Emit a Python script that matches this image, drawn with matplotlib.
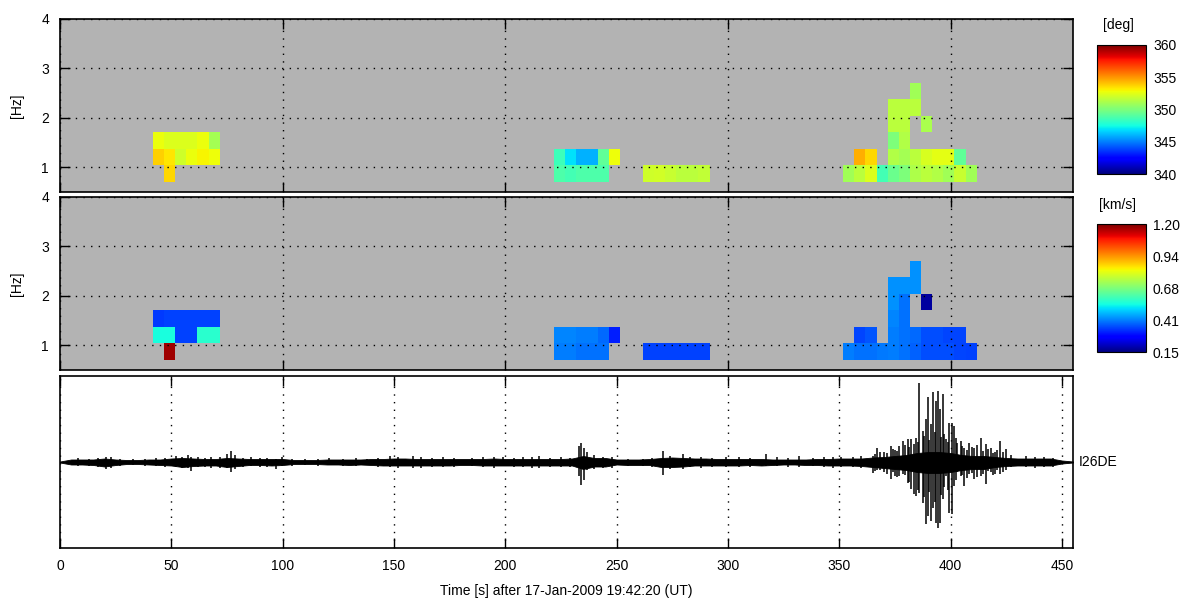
import matplotlib
matplotlib.use("Agg")
import matplotlib.pyplot as plt
import matplotlib.colors as mcolors
import matplotlib.cm as cm
import numpy as np

plt.rcParams['font.family'] = ['Liberation Sans Narrow', 'Liberation Sans', 'DejaVu Sans']
plt.rcParams['font.size'] = 10

nan = np.nan

# time bins are 5 s wide, column 0 starts at 41.75 s
bin_t0 = 41.75
bin_dt = 5.0
# frequency rows (Hz)
freq_edges = [0.71, 1.043, 1.377, 1.71, 2.043, 2.377, 2.71]

block_cols = [0, 36, 44, 62]

baz_blocks = [
    [[nan, 353.6, nan, nan, nan, nan],
     [353.8, 353.3, 352.0, 352.7, 353.0, 352.8],
     [352.7, 352.3, 352.3, 352.3, 352.7, 351.0]],
    [[348.9, 348.6, 348.9, 348.9, 348.9, nan],
     [348.5, 346.9, 346.0, 346.0, 349.3, 352.8]],
    [[352.0, 352.1, 351.8, 351.5, 351.5, 351.7]],
    [[350.9, 351.5, 352.3, 348.6, 349.6, 350.0, 351.2, 351.5, 351.3, 350.9, 351.8, 350.9],
     [nan, 354.5, 353.6, nan, 351.3, 351.0, 351.5, 352.2, 352.5, 352.5, 349.3, nan],
     [nan, nan, nan, nan, 350.0, 351.3, nan, nan, nan, nan, nan, nan],
     [nan, nan, nan, nan, 351.5, 351.5, nan, 351.1, nan, nan, nan, nan],
     [nan, nan, nan, nan, 351.5, 351.5, 351.5, nan, nan, nan, nan, nan],
     [nan, nan, nan, nan, nan, nan, 350.9, nan, nan, nan, nan, nan]],
]

vel_blocks = [
    [[nan, 1.17, nan, nan, nan, nan],
     [0.55, 0.55, 0.35, 0.35, 0.57, 0.57],
     [0.34, 0.35, 0.35, 0.35, 0.35, 0.35]],
    [[0.41, 0.41, 0.40, 0.40, 0.40, nan],
     [0.42, 0.42, 0.41, 0.41, 0.39, 0.31]],
    [[0.35, 0.35, 0.35, 0.35, 0.35, 0.35]],
    [[0.41, 0.40, 0.40, 0.405, 0.41, 0.40, 0.38, 0.36, 0.36, 0.36, 0.355, 0.35],
     [nan, 0.355, 0.37, nan, 0.41, 0.40, 0.39, 0.36, 0.36, 0.355, 0.355, nan],
     [nan, nan, nan, nan, 0.42, 0.40, nan, nan, nan, nan, nan, nan],
     [nan, nan, nan, nan, 0.43, 0.40, nan, 0.18, nan, nan, nan, nan],
     [nan, nan, nan, nan, 0.43, 0.43, 0.43, nan, nan, nan, nan, nan],
     [nan, nan, nan, nan, nan, nan, 0.43, nan, nan, nan, nan, nan]],
]

baz_ticks = [340, 345, 350, 355, 360]
vel_ticks = [0.15, 0.4125, 0.675, 0.9375, 1.20]
vel_ticklabels = ['0.15', '0.41', '0.68', '0.94', '1.20']

# waveform core band (pixels from trace centre), every 5 s
env_t = np.arange(0, 456, 5)
env_hi = [0.5, 2.5, 2.5, 2.5, 3.5, 2.5, 2, 2, 2.5, 2.5,
          3.5, 4, 3.5, 3, 3, 4, 3.5, 3, 3, 3,
          3, 2, 2, 2, 2.5, 2.5, 2.5, 2.5, 3, 3,
          3.5, 3.5, 3, 3, 3, 3, 3, 3, 3, 3.5,
          3, 3, 3, 3, 3, 3, 3.5, 6, 4, 4,
          2.5, 2.5, 2.5, 3, 4, 4.5, 4, 3.5, 3.5, 3,
          3, 3, 3, 3, 2.5, 2.5, 2.5, 2.5, 3, 3,
          3.5, 3.5, 3.5, 4.5, 5, 6, 7, 9, 10, 10,
          9, 7, 6, 6, 5, 4, 3.5, 3.5, 3.5, 3.5,
          1.5, 0.5]
env_lo = [-0.5, -2.5, -2.5, -3, -4.5, -3, -2, -2, -2.5, -3,
          -3.5, -5, -4, -3.5, -3.5, -5, -4, -3, -3, -3.5,
          -3, -2, -2, -2, -2.5, -2.5, -3, -2.5, -3, -3.5,
          -3.5, -3.5, -3.5, -3.5, -3.5, -3.5, -3, -3, -3.5, -3.5,
          -3.5, -3.5, -3.5, -3.5, -3.5, -3.5, -3.5, -7, -4.5, -4.5,
          -2.5, -3, -3, -3, -5, -5, -4.5, -3.5, -3.5, -3.5,
          -3.5, -3.5, -3, -3.5, -3, -2.5, -2.5, -3, -3, -3.5,
          -3.5, -3.5, -4, -5, -6, -7, -8, -10, -11, -11,
          -10, -8, -7, -7, -5, -4, -3.5, -3.5, -3.5, -3.5,
          -1.5, -0.5]

# small swings in the background noise
quiet_t = [8, 13, 17, 23, 27, 33, 38, 43, 47, 52,
           55, 62, 65, 68, 72, 82, 86, 90, 93, 104,
           110, 116, 121, 127, 133, 138, 143, 162, 167, 172,
           177, 185, 190, 195, 204, 208, 212, 220, 225, 229,
           244, 248, 255, 262, 266, 274, 283, 288, 293, 299,
           305, 310, 322, 327, 338, 343, 347, 356, 360, 434,
           438, 442, 446]
quiet_hi = [4, 3, 4, 5, 3, 3, 3, 4, 4, 6,
            5, 5, 4, 5, 5, 4, 5, 4, 4, 3,
            3, 3, 4, 3, 4, 3, 4, 5, 4, 5,
            4, 4, 5, 5, 4, 5, 5, 4, 5, 4,
            5, 5, 3, 3, 4, 6, 5, 5, 4, 5,
            5, 4, 5, 4, 4, 5, 5, 5, 6, 6,
            5, 5, 4]
quiet_lo = [-4, -4, -5, -6, -4, -3, -4, -4, -5, -5,
            -6, -5, -5, -6, -6, -5, -4, -5, -5, -4,
            -3, -4, -3, -4, -4, -3, -5, -6, -5, -5,
            -5, -4, -5, -6, -5, -5, -6, -5, -5, -5,
            -6, -6, -4, -4, -5, -7, -5, -6, -5, -5,
            -5, -5, -4, -5, -4, -5, -6, -5, -6, -5,
            -6, -5, -5]

# larger swings (arrivals)
spike_t = [20.5, 57.5, 59, 75, 77, 78.5, 97, 99.5, 148, 152,
           158.5, 199, 215, 233, 234.2, 235.3, 236.5, 240, 270.8, 279.7,
           317, 332, 351, 365, 367, 370, 373.3, 375, 377, 378.5,
           380.7, 382.2, 383.5, 384.5, 386, 387.5, 389, 389.8, 391.3, 392.3,
           393.5, 394.2, 395.3, 396.4, 398, 399.4, 400.6, 401.7, 403, 404.6,
           406, 408.4, 410.6, 413.6, 415.8, 418, 420, 422.3, 424.9, 427,
           366, 368.5, 371.5, 374, 376, 379.5, 381.5, 385.2, 388, 390.5,
           392.8, 395.8, 397.2, 398.7, 402.3, 405.3, 407.2, 409.5, 412, 414.7,
           417, 419, 421, 423.5]
spike_hi = [5, 7, 5, 8, 11, 7, 3, 5, 6, 5,
            6, 5, 6, 16, 19, 14, 10, 7, 11, 8,
            8, 6, 5, 6, 14, 10, 16, 12, 16, 21,
            23, 23, 18, 24, 79, 31, 43, 65, 38, 70,
            61, 71, 53, 68, 23, 39, 39, 36, 19, 21,
            14, 19, 14, 24, 18, 14, 10, 21, 13, 7,
            8, 10, 9, 13, 11, 17, 15, 20, 26, 22,
            30, 25, 28, 20, 24, 16, 12, 15, 17, 11,
            13, 9, 12, 10]
spike_lo = [-7, -6, -9, -6, -10, -7, -7, -4, -5, -6,
            -6, -4, -6, -14, -23, -18, -8, -7, -13, -7,
            -4, -5, -5, -11, -8, -10, -17, -14, -14, -12,
            -21, -27, -32, -34, -31, -41, -62, -54, -59, -46,
            -61, -66, -61, -37, -14, -51, -52, -24, -10, -14,
            -24, -12, -17, -14, -22, -10, -12, -12, -8, -5,
            -9, -8, -12, -10, -15, -13, -20, -28, -35, -30,
            -40, -33, -25, -28, -18, -13, -16, -11, -15, -12,
            -9, -13, -8, -10]

W, H = 1198, 601
fig = plt.figure(figsize=(W / 100, H / 100), dpi=100)


def box(x0, y0, x1, y1):
    return [x0 / W, 1 - y1 / H, (x1 - x0) / W, (y1 - y0) / H]


ax1 = fig.add_axes(box(60, 19, 1073, 192))
ax2 = fig.add_axes(box(60, 197, 1073, 370))
ax3 = fig.add_axes(box(60, 376, 1073, 548))

grid_style = dict(color='k', linestyle=(0, (1, 4.5)), linewidth=1.0)

baz_norm = mcolors.Normalize(340, 360)
vel_norm = mcolors.Normalize(0.15, 1.20)

for ax, blocks, norm in [(ax1, baz_blocks, baz_norm), (ax2, vel_blocks, vel_norm)]:
    ax.set_facecolor('#b3b3b3')
    for c0, block in zip(block_cols, blocks):
        vals = np.ma.masked_invalid(np.array(block, dtype=float))
        nr, nc = vals.shape
        xe = bin_t0 + bin_dt * (c0 + np.arange(nc + 1))
        ye = np.array(freq_edges[:nr + 1])
        ax.pcolormesh(xe, ye, vals, cmap='jet', norm=norm, edgecolors='none')
    ax.set_xlim(0, 455)
    ax.set_ylim(0.5, 4)
    ax.set_xticks([0, 100, 200, 300, 400])
    ax.set_xticklabels([])
    ax.set_yticks([1, 2, 3, 4])
    ax.tick_params(direction='in', length=7, width=1, top=True, right=True, pad=8)
    ax.grid(True, **grid_style)
    ax.set_axisbelow(False)
    ax.set_ylabel('[Hz]', labelpad=12)

# waveform
ax3.fill_between(env_t, env_lo, env_hi, color='k', linewidth=0.6)
ax3.vlines(quiet_t, quiet_lo, quiet_hi, color='k', linewidth=1.1)
ax3.vlines(spike_t, spike_lo, spike_hi, color='k', linewidth=1.1)
ax3.set_xlim(0, 455)
ax3.set_ylim(-86, 86)
ax3.set_xticks(np.arange(0, 451, 50))
ax3.set_yticks([])
ax3.tick_params(direction='in', length=7, width=1, top=True, pad=8)
ax3.grid(True, axis='x', **grid_style)
ax3.set_xlabel('Time [s] after 17-Jan-2009 19:42:20 (UT)', labelpad=8)
ax3.text(1.006, 0.5, 'I26DE', transform=ax3.transAxes, ha='left', va='center')

for ax in [ax1, ax2, ax3]:
    for s in ax.spines.values():
        s.set_linewidth(1.2)

# colour bars
cax1 = fig.add_axes(box(1097, 45, 1146, 174))
cb1 = fig.colorbar(cm.ScalarMappable(norm=baz_norm, cmap='jet'), cax=cax1)
cb1.set_ticks(baz_ticks)
cax1.tick_params(length=0, pad=5)
fig.text(1118 / W, 1 - 25 / H, '[deg]', ha='center', va='center')

cax2 = fig.add_axes(box(1097, 224, 1146, 352))
cb2 = fig.colorbar(cm.ScalarMappable(norm=vel_norm, cmap='jet'), cax=cax2)
cb2.set_ticks(vel_ticks)
cb2.set_ticklabels(vel_ticklabels)
cax2.tick_params(length=0, pad=5)
fig.text(1118 / W, 1 - 205 / H, '[km/s]', ha='center', va='center')

fig.savefig('out.png', dpi=100)
